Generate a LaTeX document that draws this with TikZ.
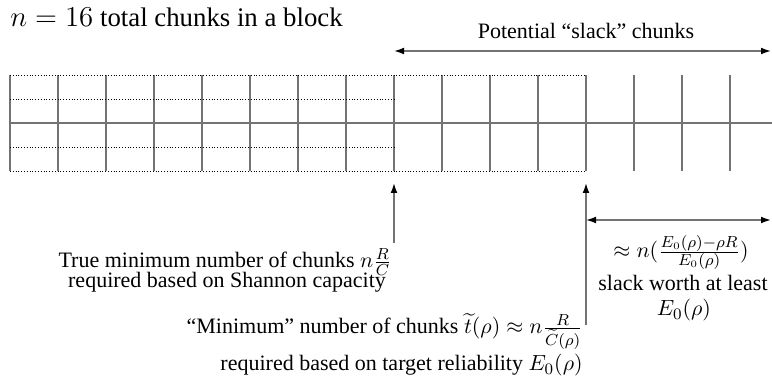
\documentclass[tikz,border=0pt]{standalone}
\usepackage[no-math]{fontspec}
\setmainfont{Liberation Serif}
\usepackage{amsmath}
\usepackage{amssymb}
\usepackage{tikz}
\usetikzlibrary{arrows.meta,positioning}
\definecolor{chunkgray}{gray}{0.45}
\tikzset{
   every path/.style={>={Latex[length=5pt,width=3.4pt,color=black]}},
   chunk/.style={draw=chunkgray, line width=0.75pt},
   subrow/.style={draw=black, densely dotted, line width=0.4pt},
   span/.style={<->, draw=chunkgray, line width=0.75pt},
   pointer/.style={->, draw=chunkgray, line width=0.75pt},
}

\begin{document}
\begin{tikzpicture}[x=0.5pt, y=0.5pt,
    lab/.style={font=\fontsize{11}{13}\selectfont, inner sep=0pt},
    biglab/.style={font=\fontsize{13.4}{16}\selectfont, inner sep=0pt}
]
\useasboundingbox (0,0) rectangle (772,-379);

% ------------------------------------------------------------
% the block of chunks
% ------------------------------------------------------------
\foreach \i in {0,...,15}
    \draw[chunk] (10+48*\i,-75) -- (10+48*\i,-171);
\draw[chunk] (10,-123) -- (772,-123);

\foreach \y in {-75,-171}
    \draw[subrow] (10,\y) -- (586,\y);
\foreach \y in {-99,-147}
    \draw[subrow] (10,\y) -- (394,\y);

% ------------------------------------------------------------
% labels on top
% ------------------------------------------------------------
\node[biglab, anchor=base west] (total) at (10,-27) {$n=16$ total chunks in a block};

\coordinate (slackL) at (394,-51);
\coordinate (slackR) at (771,-51);
\draw[span] (slackL) -- (slackR);
\node[lab, anchor=base] (slacktxt) at (586,-39) {Potential ``slack'' chunks};

% ------------------------------------------------------------
% pointers below
% ------------------------------------------------------------
\coordinate (capTop)  at (394,-183);
\coordinate (capFoot) at (394,-243);
\coordinate (relTop)  at (586,-183);
\coordinate (relFoot) at (586,-325);
\draw[pointer] (capFoot) -- (capTop);
\draw[pointer] (relFoot) -- (relTop);

\node[lab, anchor=base] (cap1) at (225,-268) {True minimum number of chunks $n\frac{R}{C}$};
\node[lab, anchor=base] (cap2) at (227,-288) {required based on Shannon capacity};

\node[lab, anchor=base east] (rel1) at (583,-334)
    {``Minimum'' number of chunks $\widetilde{t}(\rho)\approx n\frac{R}{\widetilde{C}(\rho)}$};
\node[lab, anchor=base east] (rel2) at (583,-371)
    {required based on target reliability $E_0(\rho)$};

% slack worth
\coordinate (gapL) at (586,-220);
\coordinate (gapR) at (771,-220);
\draw[span] (gapL) -- (gapR);

\node[lab, anchor=base] (gap1) at (681,-258) {$\approx n(\frac{E_0(\rho)-\rho R}{E_0(\rho)})$};
\node[lab, anchor=base] (gap2) at (683,-291) {slack worth at least};
\node[lab, anchor=base] (gap3) at (684,-316) {$E_0(\rho)$};
\end{tikzpicture}
\end{document}
